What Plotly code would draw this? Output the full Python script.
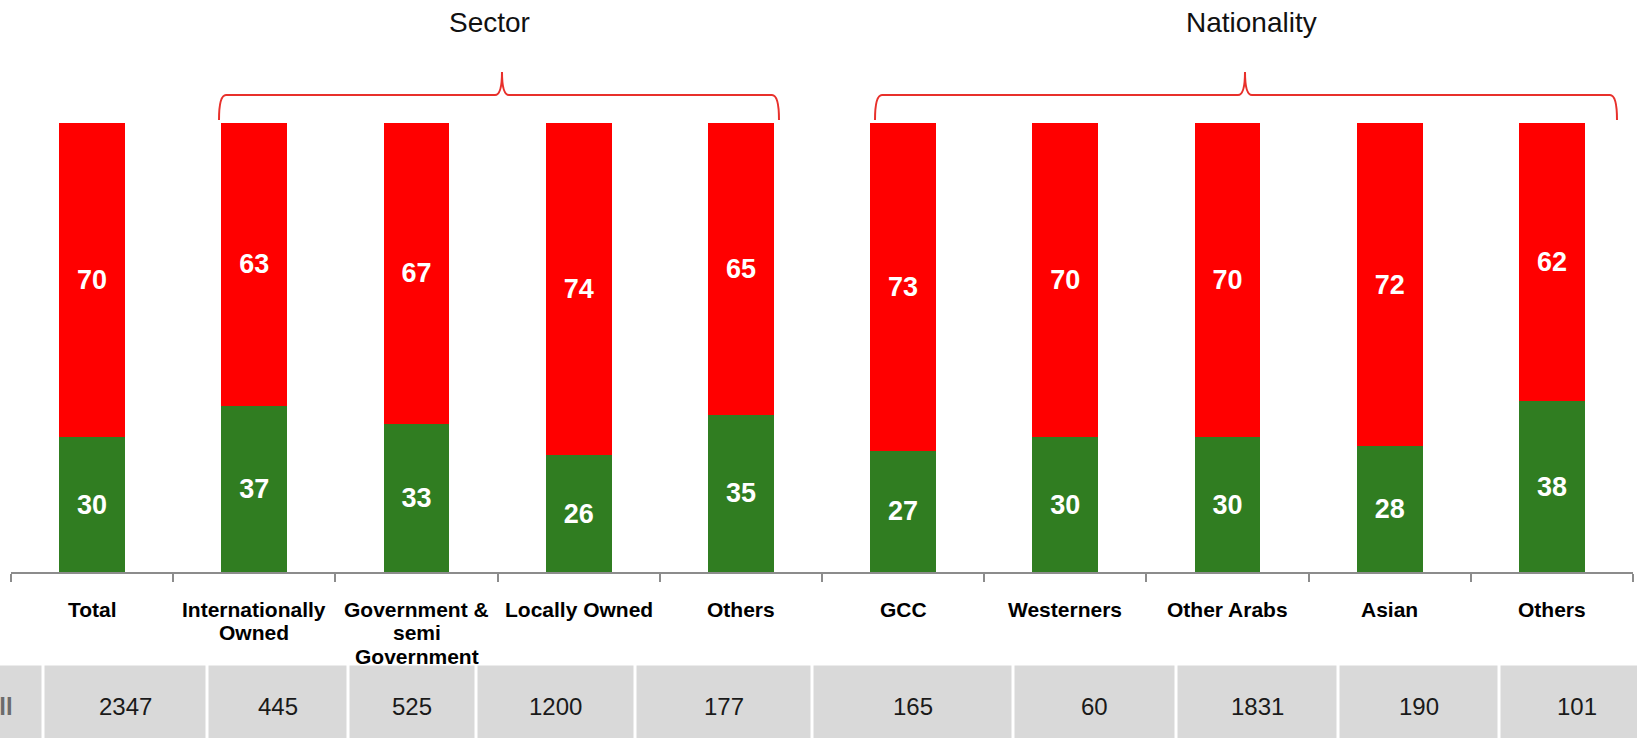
import plotly.graph_objects as go

# ---------------- data ----------------
categories = ["Total", "Internationally Owned", "Government & semi Government",
              "Locally Owned", "Others", "GCC", "Westerners", "Other Arabs",
              "Asian", "Others"]
label_lines = [["Total"], ["Internationally", "Owned"], ["Government &", "semi", "Government"],
               ["Locally Owned"], ["Others"], ["GCC"], ["Westerners"], ["Other Arabs"],
               ["Asian"], ["Others"]]
green_values = [30, 37, 33, 26, 35, 27, 30, 30, 28, 38]
red_values = [70, 63, 67, 74, 65, 73, 70, 70, 72, 62]
base_label = "All"
base_n = [2347, 445, 525, 1200, 177, 165, 60, 1831, 190, 101]
group_titles = ["Sector", "Nationality"]

# ---------------- layout helpers (page pixels -> paper) ----------------
W, H = 1637, 738
# plot area in page pixels
PL, PR, PT, PB = 11, 1633, 123, 572
ML, MR, MT, MB = PL, W - PR, PT, H - PB
PW, PH = PR - PL, PB - PT


def px(x):
    return (x - PL) / PW


def py(y):
    return (PB - y) / PH


FONT = "Liberation Sans, Arial, sans-serif"
GREEN = "#307D21"
RED = "#FF0000"
BRACE = "#E8302B"

xs = list(range(len(categories)))

fig = go.Figure()
fig.add_trace(go.Bar(
    x=xs, y=green_values, marker=dict(color=GREEN, line=dict(width=0)),
    texttemplate="<b>%{y}</b>", textposition="inside", insidetextanchor="middle",
    textfont=dict(color="white", size=27, family=FONT), constraintext="none",
    hoverinfo="skip", name="green"))
fig.add_trace(go.Bar(
    x=xs, y=red_values, marker=dict(color=RED, line=dict(width=0)),
    texttemplate="<b>%{y}</b>", textposition="inside", insidetextanchor="middle",
    textfont=dict(color="white", size=27, family=FONT), constraintext="none",
    hoverinfo="skip", name="red"))

shapes = []
annotations = []

# category labels (separate lines for tight spacing)
for i, lines in enumerate(label_lines):
    for k, line in enumerate(lines):
        annotations.append(dict(
            x=i, xref="x", y=py(609 + k * 23.5), yref="paper",
            text="<b>" + line + "</b>", showarrow=False,
            xanchor="center", yanchor="middle",
            font=dict(size=21, family=FONT, color="#000000")))


# braces
def brace(x0, x1, xm, yl, ypk, yend, r=7):
    pts = [
        ("M", [(x0, yend)]),
        ("Q", [(x0, yl), (x0 + r, yl)]),
        ("L", [(xm - r, yl)]),
        ("Q", [(xm, yl), (xm, ypk)]),
        ("Q", [(xm, yl), (xm + r, yl)]),
        ("L", [(x1 - r, yl)]),
        ("Q", [(x1, yl), (x1, yend)]),
    ]
    s = ""
    for cmd, ps in pts:
        s += cmd + " " + " ".join(f"{px(a):.5f},{py(b):.5f}" for a, b in ps) + " "
    return s.strip()


brace_spec = [(219, 779, 502), (875, 1617, 1245)]
title_x = [489, 1251]
for (x0, x1, xm), t, tx in zip(brace_spec, group_titles, title_x):
    shapes.append(dict(type="path", xref="paper", yref="paper",
                       path=brace(x0, x1, xm, 95, 72, 120),
                       line=dict(color=BRACE, width=2)))
    annotations.append(dict(x=px(tx), xref="paper", y=py(22), yref="paper",
                            text=t, showarrow=False, xanchor="center", yanchor="middle",
                            font=dict(size=28, family=FONT, color="#111111")))

# base table
seps = [-40, 43, 207, 348, 476, 635, 812, 1013, 1176, 1338, 1499, 1654]
gap = 1.5
for j in range(len(seps) - 1):
    a = seps[j] + gap
    b = seps[j + 1] - gap
    shapes.append(dict(type="rect", xref="paper", yref="paper",
                       x0=px(a), x1=px(b), y0=py(665.5), y1=py(780),
                       fillcolor="#D9D9D9", line=dict(width=0), layer="below"))
annotations.append(dict(x=px(15), xref="paper", y=py(706), yref="paper",
                        text="<b>" + base_label + "</b>", showarrow=False,
                        xanchor="right", yanchor="middle",
                        font=dict(size=24, family=FONT, color="#6B6B6B")))
for j, n in enumerate(base_n):
    cx = (seps[j + 1] + seps[j + 2]) / 2
    annotations.append(dict(x=px(cx), xref="paper", y=py(706), yref="paper",
                            text=str(n), showarrow=False,
                            xanchor="center", yanchor="middle",
                            font=dict(size=24, family=FONT, color="#1A1A1A")))

fig.update_layout(
    width=W, height=H, barmode="stack", bargap=0.594,
    margin=dict(l=ML, r=MR, t=MT, b=MB, pad=0),
    paper_bgcolor="white", plot_bgcolor="white", showlegend=False,
    hovermode=False,
    xaxis=dict(range=[-0.5, len(categories) - 0.5], showgrid=False, zeroline=False,
               showline=True, linecolor="#8C8C8C", linewidth=2,
               tickvals=[i - 0.5 for i in range(len(categories) + 1)],
               ticks="outside", ticklen=8, tickwidth=2, tickcolor="#8C8C8C",
               showticklabels=False, fixedrange=True),
    yaxis=dict(range=[0, 100], visible=False, fixedrange=True),
    shapes=shapes, annotations=annotations,
)

fig.write_html("out.html",
               config={"displayModeBar": False, "staticPlot": True},
               post_script="document.body.style.margin='0px';"
                           "document.body.style.overflow='hidden';")
